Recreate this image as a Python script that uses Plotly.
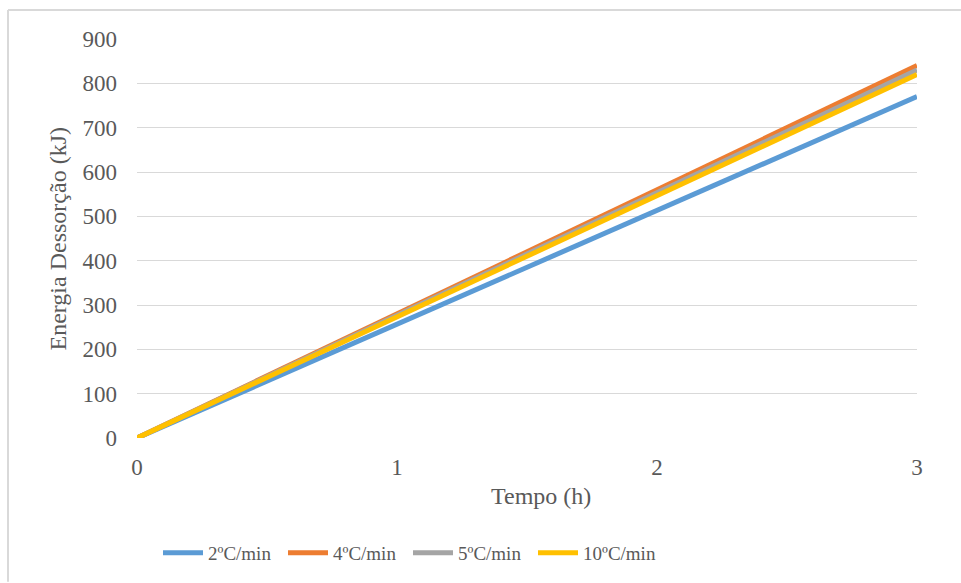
import plotly.graph_objects as go

# Desorption energy vs. time for four heating rates
tempo_h = [0, 0.5, 1.0, 1.5, 2.0, 2.5, 3.0]
energia_2 = [0, 128, 257, 385, 513, 642, 770]
energia_4 = [0, 140, 280, 420, 560, 700, 840]
energia_5 = [0, 138, 277, 415, 553, 692, 830]
energia_10 = [0, 137, 273, 410, 547, 683, 820]

series = [
    ("2ºC/min", energia_2, "#5b9bd5"),
    ("4ºC/min", energia_4, "#ed7d31"),
    ("5ºC/min", energia_5, "#a5a5a5"),
    ("10ºC/min", energia_10, "#ffc000"),
]

x_ticks = [0, 1, 2, 3]
y_ticks = [0, 100, 200, 300, 400, 500, 600, 700, 800, 900]

FONT = "Liberation Serif"
TXT = "#595959"

fig = go.Figure()
for name, vals, color in series:
    fig.add_trace(go.Scatter(
        x=tempo_h, y=vals, mode="lines", name=name,
        line=dict(color=color, width=5),
    ))

# plot area: x 137..917, y 39..439 in a 961x583 page
L, R, T, B = 137, 44, 39, 144
PW, PH = 961 - L - R, 583 - T - B

def px(x):
    return (x - L) / PW

def py(y):
    return (583 - B - y) / PH

fig.update_layout(
    width=961, height=583,
    margin=dict(l=L, r=R, t=T, b=B),
    paper_bgcolor="white", plot_bgcolor="white",
    font=dict(family=FONT, size=23, color=TXT),
    showlegend=True,
    legend=dict(
        orientation="h", x=px(158), y=py(553), xanchor="left", yanchor="middle",
        font=dict(family=FONT, size=19, color=TXT),
        entrywidth=70, itemwidth=40, bgcolor="rgba(0,0,0,0)",
    ),
    xaxis=dict(
        range=[0, 3], tickvals=x_ticks, ticktext=[str(v) for v in x_ticks],
        showgrid=False, zeroline=False, showline=False, ticks="",
        ticklabelstandoff=13,
        tickfont=dict(family=FONT, size=23, color=TXT),
    ),
    yaxis=dict(
        range=[0, 900], tickvals=y_ticks,
        showgrid=True, gridcolor="#d9d9d9", gridwidth=1,
        zeroline=False, showline=False, ticks="",
        ticklabelstandoff=19,
        tickfont=dict(family=FONT, size=23, color=TXT),
    ),
    annotations=[
        dict(text="Tempo (h)", xref="paper", yref="paper", x=px(541), y=py(497),
             showarrow=False, xanchor="center", yanchor="middle",
             font=dict(family=FONT, size=24, color=TXT)),
        dict(text="Energia Dessorção (kJ)", xref="paper", yref="paper", x=px(58), y=py(240),
             showarrow=False, xanchor="center", yanchor="middle", textangle=-90,
             font=dict(family=FONT, size=24, color=TXT)),
    ],
    shapes=[
        dict(type="line", xref="paper", yref="paper", x0=px(8), x1=px(961), y0=py(10), y1=py(10),
             line=dict(color="#d9d9d9", width=2)),
        dict(type="line", xref="paper", yref="paper", x0=px(8), x1=px(8), y0=py(10), y1=py(583),
             line=dict(color="#d9d9d9", width=2)),
    ],
)

fig.write_html("out.html")
